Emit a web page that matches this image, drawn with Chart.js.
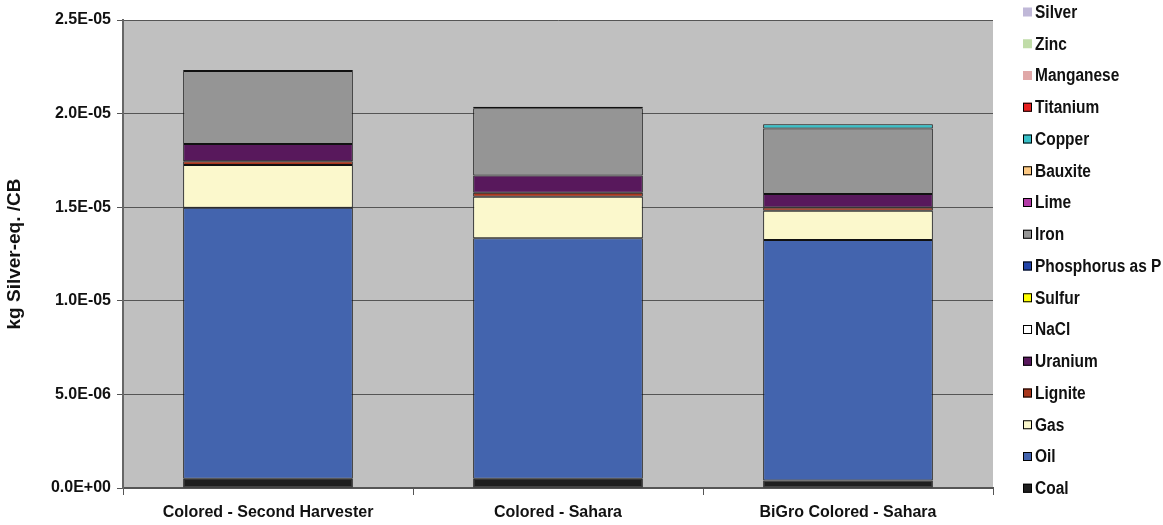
<!DOCTYPE html>
<html lang="en">
<head>
    <meta charset="UTF-8">
    <title>Abiotic depletion per CB</title>
    <script src="https://cdn.jsdelivr.net/npm/chart.js"></script>
    <style>
        body { margin: 0; background: #fff; }
    </style>
</head>
<body>
  <div>
    <canvas id="depletion" width="1163" height="525"></canvas>
  </div>

  <script>
// scenarios on the x axis
const scenarios = ['Colored - Second Harvester', 'Colored - Sahara', 'BiGro Colored - Sahara'];

// contributions per material, kg Silver-eq. per CB (stacked bottom to top)
const coal       = [5.0e-7, 5.0e-7, 4.0e-7];
const oil        = [1.447e-5, 1.284e-5, 1.285e-5];
const gas        = [2.28e-6, 2.22e-6, 1.56e-6];
const lignite    = [2.0e-7, 2.1e-7, 1.8e-7];
const uranium    = [9.3e-7, 9.3e-7, 7.1e-7];
const nacl       = [0, 0, 0];
const sulfur     = [0, 0, 0];
const phosphorus = [0, 0, 0];
const iron       = [3.9e-6, 3.58e-6, 3.51e-6];
const lime       = [0, 0, 0];
const bauxite    = [0, 0, 0];
const copper     = [5.0e-8, 8.0e-8, 2.2e-7];
const titanium   = [0, 0, 0];
const manganese  = [0, 0, 0];
const zinc       = [0, 0, 0];
const silver     = [0, 0, 0];

const yTicks = [0, 5e-6, 1e-5, 1.5e-5, 2e-5, 2.5e-5];

const series = [
    ['Coal', coal, '#1e1e1e'],
    ['Oil', oil, '#4364ae'],
    ['Gas', gas, '#fbf8cc'],
    ['Lignite', lignite, '#a8361c'],
    ['Uranium', uranium, '#58185c'],
    ['NaCl', nacl, '#ffffff'],
    ['Sulfur', sulfur, '#ffff00'],
    ['Phosphorus as P', phosphorus, '#2244a8'],
    ['Iron', iron, '#959595'],
    ['Lime', lime, '#b43ca8'],
    ['Bauxite', bauxite, '#fcc882'],
    ['Copper', copper, '#38c0c8'],
    ['Titanium', titanium, '#e82020'],
    ['Manganese', manganese, '#e0a8a8'],
    ['Zinc', zinc, '#c0dca8'],
    ['Silver', silver, '#c0b8d8']
];
// these three have no outline in the key
const noOutline = ['Manganese', 'Zinc', 'Silver'];

const FONT = '"Liberation Sans", Arial, sans-serif';

function sci(v) {
    if (Math.abs(v) < 1e-12) return '0.0E+00';
    const parts = v.toExponential(1).split('e');
    const e = parseInt(parts[1], 10);
    return parts[0] + 'E' + (e < 0 ? '-' : '+') + String(Math.abs(e)).padStart(2, '0');
}

// grey plot background
const plotBg = {
    id: 'plotBg',
    beforeDraw(chart) {
        const a = chart.chartArea;
        const ctx = chart.ctx;
        ctx.save();
        ctx.fillStyle = '#c0c0c0';
        ctx.fillRect(a.left, a.top, a.right - a.left, a.bottom - a.top);
        ctx.restore();
    }
};

// key on the right, top entry = last dataset; text squeezed horizontally
const sideKey = {
    id: 'sideKey',
    afterDraw(chart) {
        const ctx = chart.ctx;
        const sets = chart.data.datasets.slice().reverse();
        const squeeze = 0.86;
        ctx.save();
        ctx.textBaseline = 'middle';
        ctx.textAlign = 'left';
        sets.forEach((ds, i) => {
            const y = 12 + i * 31.75;
            ctx.fillStyle = ds.backgroundColor;
            ctx.fillRect(1023, y - 4.5, 9, 9);
            if (!noOutline.includes(ds.label)) {
                ctx.strokeStyle = '#000';
                ctx.lineWidth = 1;
                ctx.strokeRect(1023.5, y - 4, 8, 8);
            }
            ctx.save();
            ctx.translate(1035, y + 1);
            ctx.scale(squeeze, 1);
            ctx.font = 'bold 18px ' + FONT;
            ctx.fillStyle = '#111';
            ctx.fillText(ds.label, 0, 0);
            ctx.restore();
        });
        ctx.restore();
    }
};

window.addEventListener('load', () => {
    const ctx = document.getElementById('depletion');
    new Chart(ctx, {
        type: 'bar',
        data: {
            labels: scenarios,
            datasets: series.map(([name, values, color]) => ({
                label: name,
                data: values,
                backgroundColor: color,
                borderColor: '#111',
                borderWidth: 1,
                borderSkipped: false,
                categoryPercentage: 1,
                barPercentage: 0.585
            }))
        },
        options: {
            responsive: false,
            animation: false,
            devicePixelRatio: 1,
            layout: { padding: { top: 20, right: 170, left: 0, bottom: 0 } },
            plugins: {
                legend: { display: false },
                tooltip: { enabled: false }
            },
            scales: {
                x: {
                    stacked: true,
                    offset: true,
                    grid: { display: true, drawOnChartArea: false, offset: true, tickLength: 7, color: '#555' },
                    border: { display: true, color: '#555', width: 2 },
                    ticks: { color: '#111', padding: 8, font: { family: FONT, size: 16, weight: 'bold' } },
                    afterFit(scale) { scale.height = 37; }
                },
                y: {
                    stacked: true,
                    min: 0,
                    max: 2.5e-5,
                    afterBuildTicks(scale) { scale.ticks = yTicks.map(v => ({ value: v })); },
                    grid: { color: '#555', tickLength: 6 },
                    border: { display: true, color: '#666', width: 2 },
                    ticks: {
                        color: '#111',
                        padding: 6,
                        font: { family: FONT, size: 16, weight: 'bold' },
                        callback: v => sci(v)
                    },
                    title: {
                        display: true,
                        text: 'kg Silver-eq. /CB',
                        color: '#111',
                        font: { family: FONT, size: 19, weight: 'bold' },
                        padding: { top: 3, bottom: 0 }
                    },
                    afterFit(scale) { scale.width = 123; }
                }
            }
        },
        plugins: [plotBg, sideKey]
    });
});
  </script>
</body>
</html>
